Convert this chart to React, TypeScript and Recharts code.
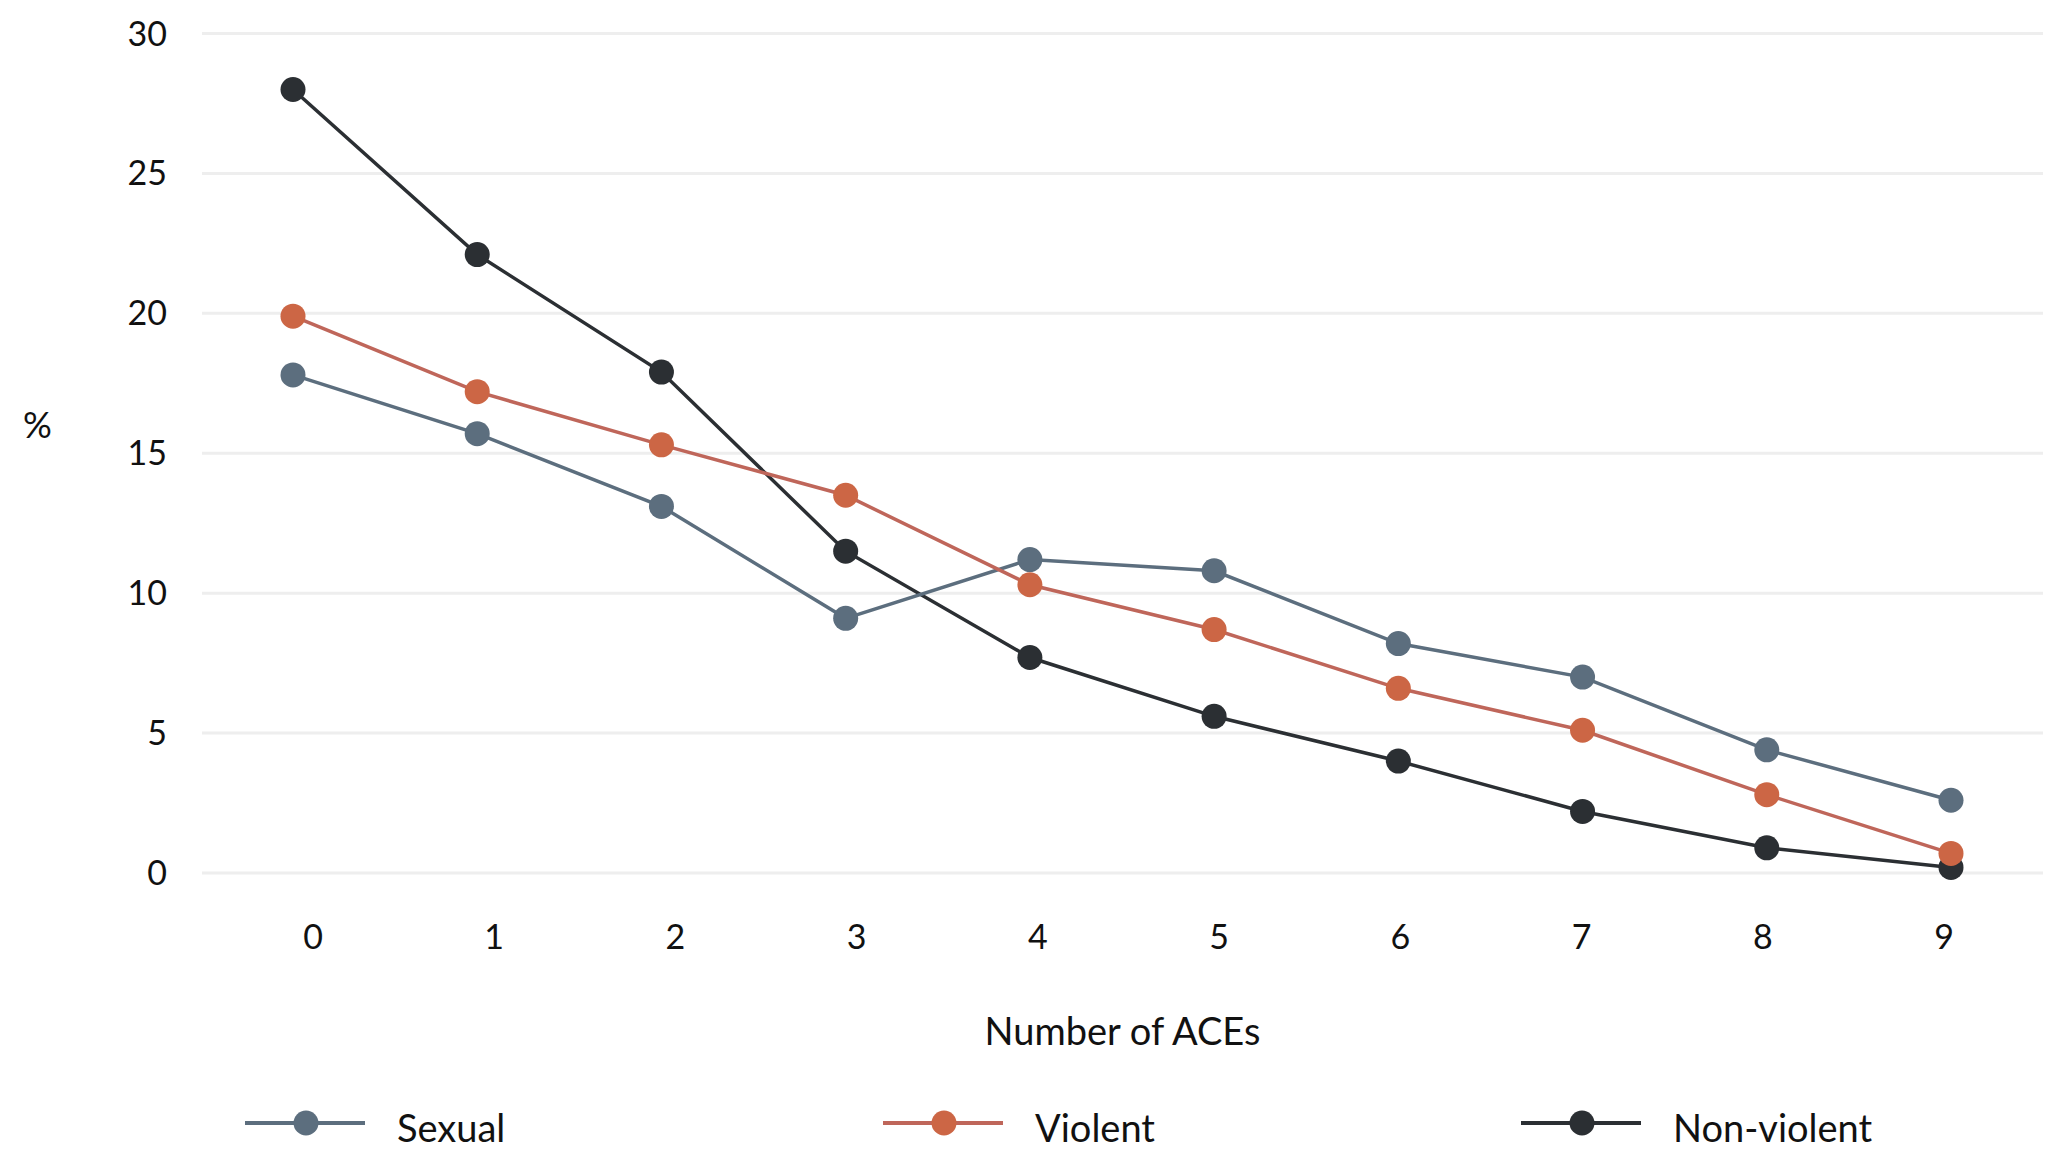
import React from 'react';
import { LineChart, Line, XAxis, YAxis, CartesianGrid, Legend } from 'recharts';

const aces = [0, 1, 2, 3, 4, 5, 6, 7, 8, 9];
const sexual = [17.8, 15.7, 13.1, 9.1, 11.2, 10.8, 8.2, 7.0, 4.4, 2.6];
const violent = [19.9, 17.2, 15.3, 13.5, 10.3, 8.7, 6.6, 5.1, 2.8, 0.7];
const nonViolent = [28.0, 22.1, 17.9, 11.5, 7.7, 5.6, 4.0, 2.2, 0.9, 0.2];
const yTicks = [0, 5, 10, 15, 20, 25, 30];

const series = [
  { key: 'sexual', name: 'Sexual', line: '#5c6e7e', marker: '#5c6e7e' },
  { key: 'violent', name: 'Violent', line: '#bf665a', marker: '#cc6645' },
  { key: 'nonViolent', name: 'Non-violent', line: '#2b2f33', marker: '#2b2f33' },
];

const data = aces.map((x, i) => ({
  x,
  sexual: sexual[i],
  violent: violent[i],
  nonViolent: nonViolent[i],
}));

const FONT = 'Lato, "Noto Sans", sans-serif';

const LegendContent = () => (
  <div style={{ display: 'flex', fontFamily: FONT, fontSize: 38, color: '#111' }}>
    {series.map((s) => (
      <div key={s.key} style={{ width: 638, display: 'flex', alignItems: 'center' }}>
        <svg width={120} height={30} style={{ display: 'block' }}>
          <line x1={0} y1={15} x2={120} y2={15} stroke={s.line} strokeWidth={4} />
          <circle cx={61} cy={15} r={12.5} fill={s.marker} />
        </svg>
        <span style={{ marginLeft: 32, lineHeight: '40px', position: 'relative', top: 4 }}>{s.name}</span>
      </div>
    ))}
  </div>
);

export default function App() {
  return (
    <div style={{ position: 'absolute', left: 0, top: 0, width: 2046, height: 1164, background: '#fff' }}>
      <LineChart
        width={2046}
        height={1164}
        data={data}
        margin={{ top: 33.5, right: 3, left: 0, bottom: 91 }}
      >
        <CartesianGrid vertical={false} stroke="#eeeeee" strokeWidth={3} />
        <XAxis
          dataKey="x"
          type="number"
          domain={[0, 9]}
          ticks={aces}
          hide
          height={0}
          padding={{ left: 91, right: 92 }}
        />
        <XAxis
          xAxisId="lbl"
          type="number"
          domain={[0, 9]}
          allowDataOverflow
          ticks={aces}
          interval={0}
          height={200}
          axisLine={false}
          tickLine={false}
          tickSize={0}
          tickMargin={52}
          padding={{ left: 111, right: 99 }}
          tick={{ fontFamily: FONT, fontSize: 34, fill: '#111' }}
          label={{
            value: 'Number of ACEs',
            position: 'insideBottom',
            offset: 28,
            style: { fontFamily: FONT, fontSize: 38, fill: '#111' },
          }}
        />
        <YAxis
          type="number"
          domain={[0, 30]}
          ticks={yTicks}
          width={202}
          axisLine={false}
          tickLine={false}
          tickSize={0}
          tickMargin={35}
          tick={{ fontFamily: FONT, fontSize: 34, fill: '#111' }}
          label={{
            value: '%',
            position: 'insideLeft',
            offset: 23,
            dy: -28,
            style: { fontFamily: FONT, fontSize: 36, fill: '#111', textAnchor: 'start' },
          }}
        />
        <Legend
          layout="horizontal"
          verticalAlign="middle"
          align="center"
          content={<LegendContent />}
          wrapperStyle={{ position: 'absolute', left: 245, top: 1103, width: 1914, height: 40 }}
        />
        {[series[2], series[0], series[1]].map((s) => (
          <Line
            key={s.key}
            dataKey={s.key}
            name={s.name}
            stroke={s.line}
            strokeWidth={3.5}
            dot={{ r: 12.5, fill: s.marker, stroke: 'none', strokeWidth: 0 }}
            activeDot={false}
            isAnimationActive={false}
          />
        ))}
      </LineChart>
    </div>
  );
}
